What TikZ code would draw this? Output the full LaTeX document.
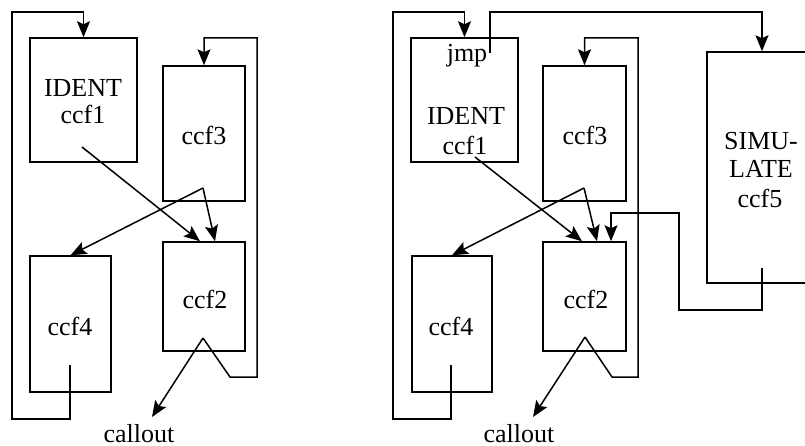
\documentclass[tikz,border=0pt]{standalone}
\usepackage{fontspec}
\setmainfont{Liberation Serif}
\usetikzlibrary{arrows.meta}
\begin{document}
\begin{tikzpicture}[x=1pt,y=-1pt,line width=1.5pt,
  >={Stealth[length=16pt,width=13pt,inset=3pt]},
  box/.style={draw,inner sep=0pt},
  lbl/.style={anchor=base,inner sep=0pt,font=\fontsize{26}{28}\selectfont}]
\useasboundingbox (0,0) rectangle (805,446);
\clip (0,0) rectangle (805,446);
% ---------- left diagram ----------
\node[box,minimum width=107pt,minimum height=124pt] (a1) at (83.5,100) {};
\node[box,minimum width=82pt,minimum height=135pt] (a3) at (204,133.5) {};
\node[box,minimum width=81pt,minimum height=136pt] (a4) at (70.5,324) {};
\node[box,minimum width=82pt,minimum height=109pt] (a2) at (204,296.5) {};
\node[lbl] (ta1) at (83,97) {IDENT};
\node[lbl] (ta1b) at (83,124) {ccf1};
\node[lbl] (ta3) at (204,145) {ccf3};
\node[lbl] (ta4) at (70,335) {ccf4};
\node[lbl] (ta2) at (205,308) {ccf2};
\node[lbl] (tac) at (139,442) {callout};
\coordinate (a1in) at (82,147);
\coordinate (a3in) at (203,188);
\coordinate (a2in) at (203,338);
\coordinate (a4in) at (70,365);
\coordinate (aco) at (152,417);
\draw[->] (a4in) -- (70,419) -| (12,12) -| (a1.north);
\draw[->] (a2in) -- (230,377) -| (257,38) -| (a3.north);
\draw[->] (a1in) -- ([xshift=-4pt]a2.north);
\draw[->] (a3in) -- ([xshift=11pt]a2.north);
\draw[->] (a3in) -- (a4.north);
\draw[->] (a2in) -- (aco);
% ---------- right diagram ----------
\node[box,minimum width=107pt,minimum height=124pt] (b1) at (464.5,100) {};
\node[box,minimum width=83pt,minimum height=135pt] (b3) at (584.5,133.5) {};
\node[box,minimum width=80pt,minimum height=136pt] (b4) at (452,324) {};
\node[box,minimum width=83pt,minimum height=109pt] (b2) at (584.5,296.5) {};
\node[box,minimum width=110pt,minimum height=231pt] (b5) at (762,167.5) {};
\node[lbl] (tb1j) at (467,62) {jmp};
\node[lbl] (tb1) at (466,125) {IDENT};
\node[lbl] (tb1b) at (465,155) {ccf1};
\node[lbl] (tb3) at (585,145) {ccf3};
\node[lbl] (tb4) at (451,335) {ccf4};
\node[lbl] (tb2) at (586,308) {ccf2};
\node[lbl] (tbc) at (519,442) {callout};
\node[lbl] (tb5a) at (761,150) {SIMU-};
\node[lbl] (tb5b) at (761,178) {LATE};
\node[lbl] (tb5c) at (760,208) {ccf5};
\coordinate (b1in) at (490,53);
\coordinate (b1ln) at (475,157);
\coordinate (b3in) at (584,188);
\coordinate (b2in) at (585,337);
\coordinate (b4in) at (451,365);
\coordinate (b5in) at (762,268);
\coordinate (bco) at (533,417);
\draw[->] (b4in) -- (451,419) -| (393,12) -| (b1.north);
\draw[->] (b1in) -- (490,12) -| (b5.north);
\draw[->] (b2in) -- (612,377) -| (638,38) -| (b3.north);
\draw[->] (b5in) -- (762,310) -| (679,213) -| ([xshift=26.5pt]b2.north);
\draw[->] (b1ln) -- ([xshift=-2.5pt]b2.north);
\draw[->] (b3in) -- ([xshift=12.5pt]b2.north);
\draw[->] (b3in) -- (b4.north);
\draw[->] (b2in) -- (bco);
\end{tikzpicture}
\end{document}
